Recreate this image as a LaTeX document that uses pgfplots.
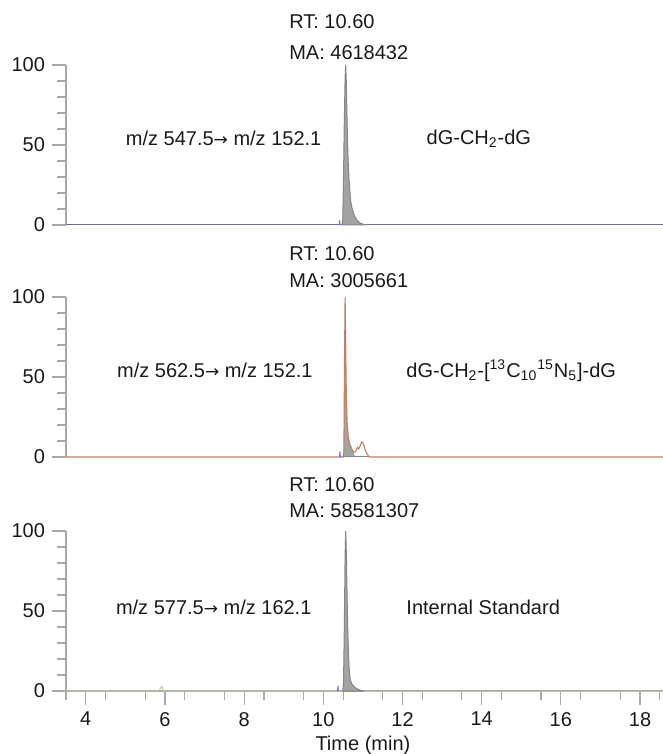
\documentclass[border=0pt]{standalone}
\usepackage{fontspec}
\setmainfont{Liberation Sans}
\newfontfamily\dejavu{DejaVu Sans}
\usepackage{pgfplots}
\pgfplotsset{compat=1.18}
\definecolor{axgray}{HTML}{A8A8A8}
\definecolor{pkfill}{HTML}{A3A3A3}
\definecolor{pkline}{HTML}{858585}
\definecolor{tblue}{HTML}{6B6B96}
\definecolor{tred}{HTML}{C08068}
\definecolor{tgreen}{HTML}{B5CC9A}
\definecolor{bblue}{HTML}{7070D0}
\definecolor{txt}{HTML}{1A1A1A}
\tikzset{lab/.style={inner sep=0pt, font=\fontsize{10}{12}\selectfont, text=txt}}
\pgfplotsset{
  chrom/.style={
    scale only axis, width=298.5pt, height=80pt,
    xmin=3.5, xmax=18.58, ymin=0, ymax=100,
    anchor=south west, clip=false,
    axis lines=left,
    axis line style={-, draw=axgray, line width=0.75pt},
    every outer y axis line/.append style={-},
    every outer x axis line/.append style={-},
    ytick={0,50,100}, minor ytick={10,20,30,40,60,70,80,90},
    tick align=outside, major tick length=7pt, minor tick length=4.5pt,
    tick style={draw=axgray, line width=0.6pt},
    /pgf/number format/assume math mode=true,
    tick label style={font=\fontsize{10}{12}\selectfont, text=txt},
  },
  noxaxis/.style={xtick=\empty, x axis line style={draw=none}},
}
\newcommand{\arr}{{\dejavu\fontsize{8.5}{10}\selectfont →}}
\begin{document}
\begin{tikzpicture}
\useasboundingbox (-33pt,-264.5pt) rectangle (298.5pt,112.5pt);
% ---------------- top panel
\begin{axis}[chrom, noxaxis, at={(0pt,0pt)}]
\addplot[tblue, line width=0.5pt] coordinates {(3.5,0)(10.47,0)};
\addplot[tblue, line width=0.5pt] coordinates {(11.08,0)(18.58,0)};
\addplot[fill=pkfill, draw=pkline, line width=0.5pt] coordinates {
(10.47,0)(10.49,3)(10.51,30)(10.53,65)(10.55,92)(10.565,100)(10.58,90)(10.60,65)(10.62,45)(10.65,28)(10.69,15)(10.73,10)(10.78,6)(10.85,3)(10.93,1.2)(11.02,0.3)(11.08,0)} \closedcycle;
\addplot[bblue, line width=0.5pt] coordinates {(10.40,0)(10.41,3)(10.42,0)};
\node[lab, anchor=west] at (axis cs:9.13,127) {RT: 10.60};
\node[lab, anchor=west] at (axis cs:9.13,108) {MA: 4618432};
\node[lab, anchor=east] at (axis cs:9.96,54) {m/z 547.5\arr{} m/z 152.1};
\node[lab, anchor=west] at (axis cs:12.6,54) {dG-CH\textsubscript{2}-dG};
\end{axis}
% ---------------- middle panel
\begin{axis}[chrom, noxaxis, at={(0pt,-116pt)}]
\addplot[fill=pkfill, draw=none] coordinates {
(10.50,0)(10.52,5)(10.535,60)(10.55,100)(10.565,70)(10.58,40)(10.60,22)(10.63,13)(10.67,8)(10.72,5)(10.77,3)(10.80,0)} \closedcycle;
\addplot[tred, line width=0.55pt] coordinates {
(3.5,0)(10.50,0)(10.52,5)(10.535,60)(10.55,100)(10.565,70)(10.58,40)(10.60,22)(10.63,13)(10.67,8)(10.72,5)(10.77,3)(10.82,3.5)(10.86,6)(10.89,5)(10.93,7)(10.97,9.5)(11.01,8.5)(11.05,5)(11.10,2)(11.15,0.3)(11.19,0)(18.58,0)};
\addplot[pkline, line width=0.5pt] coordinates {(10.50,0.3)(11.19,0.3)};
\addplot[bblue, line width=0.5pt] coordinates {(10.41,0)(10.42,3.5)(10.43,0)};
\node[lab, anchor=west] at (axis cs:9.13,127) {RT: 10.60};
\node[lab, anchor=west] at (axis cs:9.13,110) {MA: 3005661};
\node[lab, anchor=east] at (axis cs:9.74,54) {m/z 562.5\arr{} m/z 152.1};
\node[lab, anchor=west] at (axis cs:12.09,54) {dG-CH\textsubscript{2}-[\textsuperscript{13}C\textsubscript{10}\textsuperscript{15}N\textsubscript{5}]-dG};
\end{axis}
% ---------------- bottom panel
\begin{axis}[chrom, at={(0pt,-233pt)},
  xtick={4,6,...,18}, minor xtick={3.5,4.5,...,18.5},
]
\addplot[tgreen, line width=0.5pt] coordinates {(3.5,0)(5.84,0)(5.92,3)(5.95,0)(10.49,0)};
\addplot[tgreen, line width=0.5pt] coordinates {(11.02,0)(18.58,0)};
\addplot[fill=pkfill, draw=pkline, line width=0.5pt] coordinates {
(10.49,0)(10.51,5)(10.53,40)(10.55,85)(10.565,100)(10.58,88)(10.60,60)(10.62,35)(10.65,15)(10.68,7)(10.73,4)(10.80,2.2)(10.88,1)(10.96,0.3)(11.02,0)} \closedcycle;
\addplot[bblue, line width=0.5pt] coordinates {(10.36,0)(10.37,3)(10.38,0)};
\node[lab, anchor=west] at (axis cs:9.13,129) {RT: 10.60};
\node[lab, anchor=west] at (axis cs:9.13,113) {MA: 58581307};
\node[lab, anchor=east] at (axis cs:9.71,52.5) {m/z 577.5\arr{} m/z 162.1};
\node[lab, anchor=west] at (axis cs:12.09,52.5) {Internal Standard};
\node[lab] at (axis cs:11.0,-33.75) {Time (min)};
\end{axis}
\end{tikzpicture}
\end{document}
